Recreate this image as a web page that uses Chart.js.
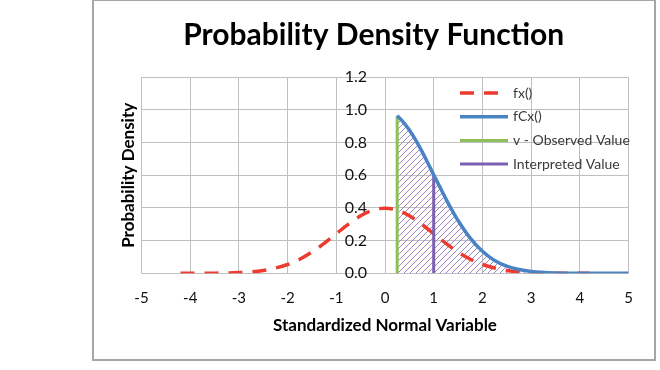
<!DOCTYPE html>
<html>
<head>
<meta charset="utf-8">
<script src="https://cdn.jsdelivr.net/npm/chart.js@4.4.1/dist/chart.umd.min.js"></script>
<style>
html, body { margin: 0; padding: 0; background: #fff; }
#frame { position: absolute; left: 92px; top: -1px; width: 560px; height: 358px; border: 2px solid #a6a6a6; background: #fff; }
#c { display: block; }
</style>
</head>
<body>
<div id="frame"><canvas id="c" width="560" height="358"></canvas></div>
<script>
// ---- data ----
const xTickLabels = ['-5', '-4', '-3', '-2', '-1', '0', '1', '2', '3', '4', '5'];
const yTickLabels = ['0.0', '0.2', '0.4', '0.6', '0.8', '1.0', '1.2'];

const seriesLabels = ['fx()', 'fCx()', 'v - Observed Value', 'Interpreted Value'];

const fxX = [-4.2, -4, -3.5, -3, -2.75, -2.5, -2.25, -2, -1.75, -1.5, -1.25, -1, -0.75, -0.5, -0.25, 0,
             0.25, 0.5, 0.75, 1, 1.25, 1.5, 1.75, 2, 2.25, 2.5, 2.75, 3, 3.5, 4, 4.2];
const fxY = [0.0001, 0.0001, 0.0009, 0.0044, 0.009, 0.0175, 0.032, 0.054, 0.086, 0.130, 0.183, 0.242, 0.301, 0.352, 0.387, 0.399,
             0.387, 0.352, 0.301, 0.242, 0.183, 0.130, 0.086, 0.054, 0.032, 0.0175, 0.009, 0.0044, 0.0009, 0.0001, 0.0001];

const fcxX = [0.25, 0.375, 0.5, 0.625, 0.75, 0.875, 1, 1.125, 1.25, 1.375, 1.5, 1.75, 2, 2.25, 2.5, 2.75, 3, 3.5, 4, 4.5, 5];
const fcxY = [0.964, 0.926, 0.877, 0.818, 0.751, 0.678, 0.603, 0.529, 0.456, 0.387, 0.323, 0.215, 0.135, 0.079, 0.044, 0.023, 0.011, 0.002, 0.0003, 0, 0];

const observedX = [0.25, 0.25];
const observedY = [0, 0.964];

const interpretedX = [1, 1];
const interpretedY = [0, 0.603];

// ---- helpers ----
const pts = (xs, ys) => xs.map((x, i) => ({ x: x, y: ys[i] }));

const hatch = (() => {
  const s = 6;
  const c = document.createElement('canvas');
  c.width = s; c.height = s;
  const g = c.getContext('2d');
  g.strokeStyle = '#9a86c8';
  g.lineWidth = 1;
  g.beginPath();
  g.moveTo(0, s); g.lineTo(s, 0);
  g.moveTo(-1, 1); g.lineTo(1, -1);
  g.moveTo(s - 1, s + 1); g.lineTo(s + 1, s - 1);
  g.stroke();
  return g.createPattern(c, 'repeat');
})();

const insideLegend = {
  id: 'insideLegend',
  afterDraw(chart) {
    const ctx = chart.ctx;
    const a = chart.chartArea;
    const x0 = a.right - 168.5;
    const y0 = a.top + 15.7;
    const rowH = 23.7;
    ctx.save();
    ctx.font = '14px Lato';
    ctx.textBaseline = 'middle';
    ctx.textAlign = 'left';
    chart.data.datasets.forEach((ds, i) => {
      const y = y0 + i * rowH;
      ctx.beginPath();
      ctx.strokeStyle = ds.borderColor;
      ctx.lineWidth = ds.borderWidth;
      ctx.lineCap = 'butt';
      ctx.setLineDash(ds.borderDash || []);
      ctx.moveTo(x0, y);
      ctx.lineTo(x0 + 48, y);
      ctx.stroke();
      ctx.setLineDash([]);
      ctx.fillStyle = '#3a3a3a';
      ctx.fillText(ds.label, x0 + 53, y);
    });
    ctx.restore();
  }
};

new Chart(document.getElementById('c'), {
  type: 'line',
  data: {
    datasets: [
      {
        label: seriesLabels[0],
        data: pts(fxX, fxY),
        borderColor: '#ee3b2f',
        borderWidth: 3.5,
        borderDash: [14, 10],
        cubicInterpolationMode: 'monotone',
        pointRadius: 0,
        fill: false,
        order: 4,
        yAxisID: 'y'
      },
      {
        label: seriesLabels[1],
        data: pts(fcxX, fcxY),
        borderColor: '#4a83c4',
        borderWidth: 3.5,
        backgroundColor: hatch,
        cubicInterpolationMode: 'monotone',
        pointRadius: 0,
        fill: 'origin',
        order: 1,
        yAxisID: 'y'
      },
      {
        label: seriesLabels[2],
        data: pts(observedX, observedY),
        borderColor: '#8dbf5a',
        borderWidth: 3,
        pointRadius: 0,
        fill: false,
        order: 2,
        yAxisID: 'y'
      },
      {
        label: seriesLabels[3],
        data: pts(interpretedX, interpretedY),
        borderColor: '#7b5fb0',
        borderWidth: 3,
        pointRadius: 0,
        fill: false,
        order: 3,
        yAxisID: 'y'
      }
    ]
  },
  options: {
    responsive: false,
    animation: false,
    layout: { padding: { left: 24.8, right: 25.5, top: 0, bottom: 22.8 } },
    plugins: {
      legend: { display: false },
      tooltip: { enabled: false },
      filler: { drawTime: 'beforeDatasetsDraw' },
      title: {
        display: true,
        text: 'Probability Density Function',
        font: { family: 'Lato', size: 30, weight: 'bold' },
        color: '#000',
        padding: { top: 16.8, bottom: 23.5 }
      }
    },
    scales: {
      x: {
        type: 'linear',
        min: -5,
        max: 5,
        ticks: {
          stepSize: 1,
          padding: 15.7,
          font: { family: 'Lato', size: 15 },
          color: '#111',
          callback: (v, i) => xTickLabels[i]
        },
        grid: { color: '#bfbfbf', lineWidth: 1, drawTicks: false },
        border: { display: false },
        title: {
          display: true,
          text: 'Standardized Normal Variable',
          font: { family: 'Lato', size: 17, weight: 'bold' },
          color: '#000',
          padding: { top: -6.9, bottom: 0 }
        }
      },
      y: {
        type: 'linear',
        position: { x: -0.37 },
        min: 0,
        max: 1.2,
        ticks: {
          stepSize: 0.2,
          padding: 0,
          font: { family: 'Lato', size: 16 },
          color: '#111',
          callback: (v, i) => yTickLabels[i]
        },
        grid: { color: '#bfbfbf', lineWidth: 1, drawTicks: false },
        border: { display: false }
      },
      yTitle: {
        type: 'linear',
        position: 'left',
        min: 0,
        max: 1.2,
        ticks: { display: false },
        grid: { display: false, drawTicks: false },
        border: { display: false },
        title: {
          display: true,
          text: 'Probability Density',
          font: { family: 'Lato', size: 17, weight: 'bold' },
          color: '#000',
          padding: { top: 0, bottom: 2.3 }
        }
      }
    }
  },
  plugins: [insideLegend]
});
</script>
</body>
</html>
